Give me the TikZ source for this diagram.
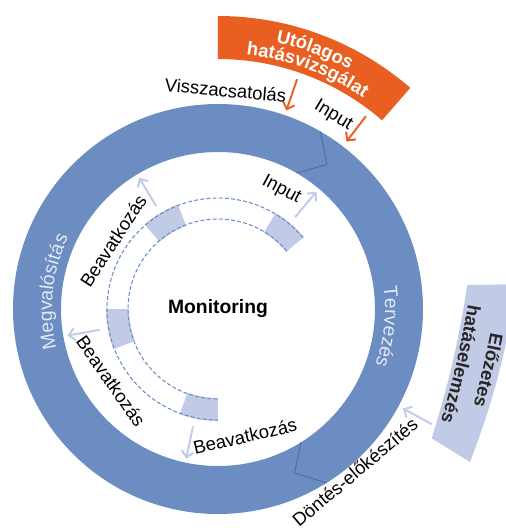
\documentclass[tikz,border=0pt]{standalone}
\usepackage{fontspec}
\setmainfont{Liberation Sans}
\usetikzlibrary{arrows.meta,decorations.text}

\definecolor{ringblue}{RGB}{108,141,194}
\definecolor{seamblue}{RGB}{74,108,168}
\definecolor{hatorange}{RGB}{233,95,33}
\definecolor{lavender}{RGB}{193,203,230}
\definecolor{ringtext}{RGB}{226,232,244}
\definecolor{dashblue}{RGB}{105,140,198}

\begin{document}
\begin{tikzpicture}[x=0.02cm,y=0.02cm,
  felirat/.style={font=\fontsize{10.5}{12}\selectfont, inner sep=0pt},
  nyil/.style={line width=1.1pt, -{Straight Barb[length=3.5pt,width=7pt]}},
  szaggatott/.style={dashblue, line width=0.6pt, dash pattern=on 2.2pt off 1.3pt}]
\useasboundingbox (-218,-219) rectangle (287,309);

% the big ring
\fill[ringblue, even odd rule] (0,0) circle (205) (0,0) circle (157);
\draw[seamblue, line width=0.5pt] (60:205) -- (53:181) -- (60:157);
\draw[seamblue, line width=0.5pt] (-58:205) -- (-65:181) -- (-58:157);
\path[decorate, decoration={text along path, text align=center,
  text={|\color{ringtext}\fontsize{11}{13}\selectfont|Megvalósítás}}]
  (196:166) arc[start angle=196, end angle=152, radius=166];
\path[decorate, decoration={text along path, text align=center,
  text={|\color{ringtext}\fontsize{11}{13}\selectfont|Tervezés}}]
  (16:167) arc[start angle=16, end angle=-28, radius=167];

% Utolagos band
\fill[hatorange] (90:293) arc[start angle=90, end angle=49, radius=293]
  -- (49:250) arc[start angle=49, end angle=90, radius=250] -- cycle;
\path[decorate, decoration={text along path, text align=center,
  text={|\color{white}\bfseries\fontsize{10.5}{12}\selectfont|Utólagos}}]
  (90:273) arc[start angle=90, end angle=49, radius=273];
\path[decorate, decoration={text along path, text align=center,
  text={|\color{white}\bfseries\fontsize{10.5}{12}\selectfont|hatásvizsgálat}}]
  (90:256) arc[start angle=90, end angle=49, radius=256];

% Elozetes band (runs off the right edge)
\fill[lavender] (249.3,24) to[bend left=4] (213.7,-129.3) -- (252,-153)
  to[bend right=4] (289,-30) -- (310,0) -- (310,25) -- cycle;
\path[decorate, decoration={text along path, text align=center,
  text={|\color{black!85}\bfseries\fontsize{10.5}{12}\selectfont|hatáselemzés}}]
  (253.2,23.1) to[bend left=4] (217.6,-130.2);
\path[decorate, decoration={text along path, text align=center,
  text={|\color{black!85}\bfseries\fontsize{10.5}{12}\selectfont|Előzetes}}]
  (279.5,17.3) to[bend left=4] (243.9,-136);

% monitoring circle
\fill[lavender] (40:89) arc[start angle=40, end angle=59, radius=89]
  -- (59:112) arc[start angle=59, end angle=40, radius=112] -- cycle;
\fill[lavender] (111:89) arc[start angle=111, end angle=131, radius=89]
  -- (131:112) arc[start angle=131, end angle=111, radius=112] -- cycle;
\fill[lavender] (180:89) arc[start angle=180, end angle=201, radius=89]
  -- (201:112) arc[start angle=201, end angle=180, radius=112] -- cycle;
\fill[lavender] (250:89) arc[start angle=250, end angle=270, radius=89]
  -- (270:112) arc[start angle=270, end angle=250, radius=112] -- cycle;
\draw[szaggatott] (40:111) arc[start angle=40, end angle=270, radius=111];
\draw[szaggatott] (40:90) arc[start angle=40, end angle=270, radius=90];
\node[font=\bfseries\fontsize{11}{13}\selectfont] (monitor) at (0,0) {Monitoring};

% inner arrows
\coordinate (inp-a) at (50:120);   \coordinate (inp-b) at (50:153);
\coordinate (bea1-a) at (121:120); \coordinate (bea1-b) at (121:153);
\coordinate (bea2-a) at (190:120); \coordinate (bea2-b) at (190:153);
\coordinate (bea3-a) at (258:120); \coordinate (bea3-b) at (258:153);
\draw[nyil, lavender] (inp-a) -- (inp-b);
\draw[nyil, lavender] (bea1-a) -- (bea1-b);
\draw[nyil, lavender] (bea2-a) -- (bea2-b);
\draw[nyil, lavender] (bea3-a) -- (bea3-b);
\node[felirat, rotate=-28] (inp) at (62:135) {Input};
\node[felirat, rotate=57] (bea1) at (147:125) {Beavatkozás};
\node[felirat, rotate=-55] (bea2) at (214:129) {Beavatkozás};
\node[felirat, rotate=13] (bea3) at (-78:130) {Beavatkozás};

% outer arrows
\coordinate (vcs-a) at (71:243);   \coordinate (vcs-b) at (71:210);
\coordinate (oinp-a) at (52.5:243); \coordinate (oinp-b) at (52.5:211);
\coordinate (elo-a) at (-28.3:243); \coordinate (elo-b) at (-28.3:210);
\draw[nyil, hatorange] (vcs-a) -- (vcs-b);
\draw[nyil, hatorange] (oinp-a) -- (oinp-b);
\draw[nyil, lavender] (elo-a) -- (elo-b);
\node[felirat, rotate=-5] (vcs) at (88:219) {Visszacsatolás};
\node[felirat, rotate=-31] (oinp) at (59.2:225) {Input};
\node[felirat, rotate=40] (dont) at (-50:213) {Döntés-előkészítés};
\end{tikzpicture}
\end{document}
